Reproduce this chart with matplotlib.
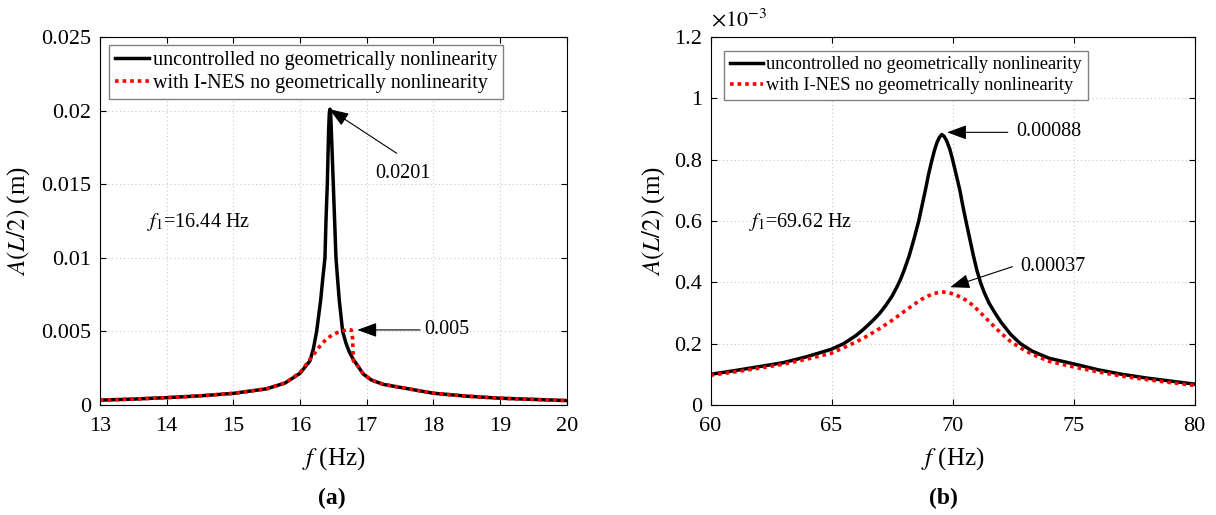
import numpy as np
import matplotlib.pyplot as plt

plt.rcParams["font.family"] = ["Liberation Serif", "DejaVu Serif"]
plt.rcParams["mathtext.fontset"] = "stix"

# (a) first mode around 16.44 Hz, amplitude in m
f_a_unc = [13.0, 13.5, 14.0, 14.5, 15.0, 15.5, 15.78, 16.0, 16.15, 16.2, 16.25,
           16.31, 16.34, 16.375, 16.39, 16.41, 16.43, 16.44, 16.45, 16.46, 16.47,
           16.50, 16.52, 16.54, 16.565, 16.59, 16.64, 16.69, 16.74, 16.8, 16.875,
           16.95, 17.07, 17.25, 17.5, 18.0, 18.5, 19.0, 19.5, 20.0]
A_a_unc = [0.00033, 0.00040, 0.00050, 0.00062, 0.00079, 0.00110, 0.0015, 0.00215,
           0.0030, 0.0038, 0.0050, 0.0071, 0.0085, 0.0100, 0.0125, 0.0150, 0.0187,
           0.0198, 0.0201, 0.0198, 0.0187, 0.0150, 0.0125, 0.0100, 0.0085, 0.0071,
           0.0050, 0.0042, 0.0036, 0.0031, 0.0026, 0.0021, 0.0017, 0.0014, 0.0012,
           0.00080, 0.00060, 0.00046, 0.00038, 0.00030]
f_a_nes = [13.0, 13.5, 14.0, 14.5, 15.0, 15.5, 15.78, 16.0, 16.1, 16.2, 16.3,
           16.4, 16.5, 16.6, 16.7, 16.77, 16.79, 16.80, 16.875, 16.95, 17.07,
           17.25, 17.5, 18.0, 18.5, 19.0, 19.5, 20.0]
A_a_nes = [0.00033, 0.00040, 0.00050, 0.00062, 0.00079, 0.00110, 0.0015, 0.0022,
           0.0028, 0.0034, 0.0040, 0.0045, 0.0048, 0.0050, 0.0051, 0.0051, 0.0045,
           0.0030, 0.0026, 0.0021, 0.0017, 0.0014, 0.0012, 0.00080, 0.00060,
           0.00046, 0.00038, 0.00030]
xticks_a = [13, 14, 15, 16, 17, 18, 19, 20]
yticks_a = [0, 0.005, 0.01, 0.015, 0.02, 0.025]
ylabels_a = ["0", "0.005", "0.01", "0.015", "0.02", "0.025"]

# (b) around 69.62 Hz, amplitude in units of 1e-3 m
f_b_unc = [60, 61, 62, 63, 64, 65, 65.5, 66, 66.25, 66.5, 66.75, 67, 67.25, 67.5,
           67.7, 67.85, 68.0, 68.2, 68.4, 68.6, 68.75, 68.9, 69.0, 69.15, 69.25,
           69.35, 69.45, 69.55, 69.65, 69.75, 69.88, 70.0, 70.15, 70.3, 70.42,
           70.55, 70.7, 70.85, 71.0, 71.15, 71.3, 71.5, 71.75, 72.0, 72.4, 72.8,
           73.3, 74, 75, 76, 77, 78, 79, 80]
A_b_unc = [0.100, 0.112, 0.125, 0.138, 0.158, 0.182, 0.200, 0.226, 0.242, 0.260,
           0.279, 0.300, 0.326, 0.355, 0.385, 0.41, 0.44, 0.485, 0.54, 0.60, 0.655,
           0.71, 0.75, 0.80, 0.83, 0.855, 0.872, 0.882, 0.876, 0.862, 0.835, 0.80,
           0.75, 0.70, 0.65, 0.60, 0.545, 0.49, 0.44, 0.40, 0.368, 0.333, 0.30,
           0.27, 0.23, 0.200, 0.175, 0.152, 0.134, 0.115, 0.100, 0.088, 0.078,
           0.068]
f_b_nes = [60, 61, 62, 63, 64, 65, 66, 66.5, 67, 67.5, 68, 68.5, 68.75, 69,
           69.25, 69.55, 69.85, 70.1, 70.35, 70.6, 70.85, 71.1, 71.35, 71.6, 72.0,
           72.44, 73.0, 73.5, 74, 75, 76, 77, 78, 79, 80]
A_b_nes = [0.097, 0.108, 0.120, 0.133, 0.150, 0.169, 0.205, 0.226, 0.250, 0.276,
           0.305, 0.333, 0.346, 0.356, 0.364, 0.369, 0.366, 0.360, 0.351, 0.340,
           0.324, 0.305, 0.285, 0.265, 0.234, 0.204, 0.177, 0.158, 0.142, 0.124,
           0.108, 0.094, 0.083, 0.073, 0.064]
xticks_b = [60, 65, 70, 75, 80]
yticks_b = [0, 0.2, 0.4, 0.6, 0.8, 1.0, 1.2]
ylabels_b = ["0", "0.2", "0.4", "0.6", "0.8", "1", "1.2"]

label_unc = "uncontrolled no geometrically nonlinearity"
label_nes = "with I-NES no geometrically nonlinearity"

arrow = dict(arrowstyle="-|>,head_length=0.6,head_width=0.22", color="k",
             lw=0.8, mutation_scale=20, shrinkA=0, shrinkB=0)


def style_axes(ax, tick_size):
    ax.tick_params(direction="in", top=True, right=True, length=4.5, width=0.8,
                   labelsize=tick_size)
    ax.tick_params(axis="y", pad=6)
    ax.tick_params(axis="x", pad=9)
    ax.grid(True, color="#c8c8c8", linestyle=(0, (1, 2.5)), linewidth=0.8)
    for s in ax.spines.values():
        s.set_linewidth(0.8)


fig = plt.figure(figsize=(12.16, 5.15), dpi=100)

# panel (a)
ax1 = fig.add_axes([0.0822, 0.2136, 0.3838, 0.7146])
ax1.plot(f_a_unc, A_a_unc, color="k", lw=2.5, label=label_unc)
ax1.plot(f_a_nes, A_a_nes, color="red", lw=2.6, linestyle=(0, (1, 1.1)),
         label=label_nes)
ax1.set_xlim(13, 20)
ax1.set_ylim(0, 0.025)
ax1.set_xticks(xticks_a)
ax1.set_yticks(yticks_a)
ax1.set_yticklabels(ylabels_a)
style_axes(ax1, 16)
ax1.set_xlabel(r"$f$ (Hz)", fontsize=18)
ax1.xaxis.set_label_coords(0.5, -0.108)
ax1.set_ylabel(r"$A(L/2)$ (m)", fontsize=18)
ax1.yaxis.set_label_coords(-0.146, 0.5)
ax1.legend(loc="upper left", bbox_to_anchor=(0.02, 0.978), fontsize=14.5,
           handlelength=1.65, handletextpad=0.2, borderpad=0.3,
           labelspacing=0.2, borderaxespad=0, fancybox=False,
           edgecolor="#808080", framealpha=1)
ax1.annotate("", xy=(16.44, 0.0201), xytext=(17.45, 0.0171), arrowprops=arrow)
ax1.text(17.13, 0.0157, "0.0201", fontsize=14.5, va="center")
ax1.annotate("", xy=(16.86, 0.0051), xytext=(17.8, 0.0051), arrowprops=arrow)
ax1.text(17.87, 0.0051, "0.005", fontsize=14.5, va="center")
ax1.text(13.71, 0.0121, r"$f_1$=16.44 Hz", fontsize=14.5, va="baseline")
ax1.text(0.497, -0.253, "(a)", transform=ax1.transAxes, fontsize=17,
         fontweight="bold", ha="center", va="center")

# panel (b)
ax2 = fig.add_axes([0.5843, 0.2136, 0.3982, 0.7146])
ax2.plot(f_b_unc, A_b_unc, color="k", lw=2.5, label=label_unc)
ax2.plot(f_b_nes, A_b_nes, color="red", lw=2.6, linestyle=(0, (1, 1.1)),
         label=label_nes)
ax2.set_xlim(60, 80)
ax2.set_ylim(0, 1.2)
ax2.set_xticks(xticks_b)
ax2.set_yticks(yticks_b)
ax2.set_yticklabels(ylabels_b)
style_axes(ax2, 16)
ax2.set_xlabel(r"$f$ (Hz)", fontsize=18)
ax2.xaxis.set_label_coords(0.5, -0.108)
ax2.set_ylabel(r"$A(L/2)$ (m)", fontsize=18)
ax2.yaxis.set_label_coords(-0.09, 0.5)
ax2.text(0.0, 1.015, r"$\times10^{-3}$", transform=ax2.transAxes, fontsize=16,
         va="bottom", ha="left")
ax2.legend(loc="upper left", bbox_to_anchor=(0.0285, 0.962), fontsize=13.2,
           handlelength=1.8, handletextpad=0.2, borderpad=0.3,
           labelspacing=0.2, borderaxespad=0, fancybox=False,
           edgecolor="#808080", framealpha=1)
ax2.annotate("", xy=(69.77, 0.889), xytext=(72.28, 0.889), arrowprops=arrow)
ax2.text(72.63, 0.893, "0.00088", fontsize=14.5, va="center")
ax2.annotate("", xy=(69.9, 0.384), xytext=(72.47, 0.451), arrowprops=arrow)
ax2.text(72.8, 0.452, "0.00037", fontsize=14.5, va="center")
ax2.text(61.59, 0.58, r"$f_1$=69.62 Hz", fontsize=14.5, va="baseline")
ax2.text(0.482, -0.253, "(b)", transform=ax2.transAxes, fontsize=17,
         fontweight="bold", ha="center", va="center")

fig.savefig("out.png", dpi=100)
